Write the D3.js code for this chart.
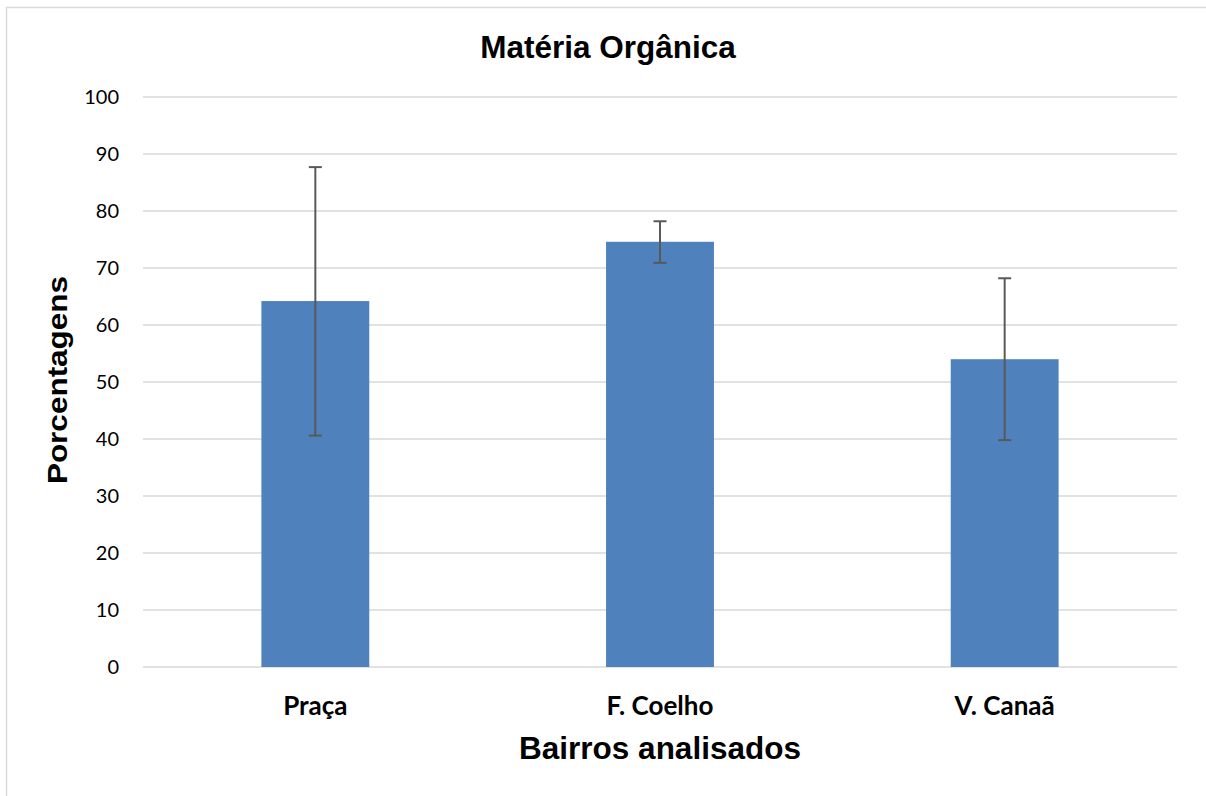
<!DOCTYPE html>
<html>
<head>
<meta charset="utf-8">
<script src="https://cdn.jsdelivr.net/npm/d3@7"></script>
<style>
  body { margin: 0; background: #fff; }
  svg { display: block; }
</style>
</head>
<body>
<svg id="chart"></svg>
<script>
// Data
const bairros = ['Praça', 'F. Coelho', 'V. Canaã'];
const medias = [64.2, 74.6, 54.0];
const erroSup = [87.7, 78.2, 68.2];
const erroInf = [40.6, 70.9, 39.8];
const yTicks = [0, 10, 20, 30, 40, 50, 60, 70, 80, 90, 100];

const width = 1206;
const height = 796;
const margin = { top: 97, right: 29, bottom: 129, left: 143 };

const svg = d3.select('#chart')
    .attr('width', width)
    .attr('height', height);

// outer frame
svg.append('rect')
    .attr('x', 6.5)
    .attr('y', 7.5)
    .attr('width', width + 10)
    .attr('height', height + 10)
    .attr('fill', 'white')
    .attr('stroke', '#d9d9d9')
    .attr('stroke-width', 1.5);

const x = d3.scaleBand()
    .domain(bairros)
    .range([margin.left, width - margin.right])
    .paddingInner(0.687)
    .paddingOuter(0.3435);

const y = d3.scaleLinear()
    .domain([0, 100])
    .range([height - margin.bottom, margin.top]);

// gridlines
svg.append('g')
    .selectAll('line')
    .data(yTicks)
    .enter()
    .append('line')
    .attr('x1', margin.left)
    .attr('x2', width - margin.right)
    .attr('y1', d => y(d))
    .attr('y2', d => y(d))
    .attr('stroke', '#d9d9d9')
    .attr('stroke-width', 1.5);

// y axis labels
const yAxis = svg.append('g')
    .attr('transform', `translate(${margin.left},0)`)
    .call(d3.axisLeft(y).tickValues(yTicks).tickSize(0).tickPadding(24));
yAxis.select('.domain').remove();
yAxis.selectAll('text')
    .style('font-family', 'Lato, "Open Sans", sans-serif')
    .style('font-size', '20px')
    .attr('fill', '#000');

// bars
svg.append('g')
    .selectAll('rect')
    .data(bairros)
    .enter()
    .append('rect')
    .attr('x', d => x(d))
    .attr('width', x.bandwidth())
    .attr('y', (d, i) => y(medias[i]))
    .attr('height', (d, i) => y(0) - y(medias[i]))
    .attr('fill', '#4f81bd');

// error bars
const err = svg.append('g')
    .attr('stroke', '#595959')
    .attr('stroke-width', 2);
bairros.forEach((b, i) => {
    const cx = x(b) + x.bandwidth() / 2;
    err.append('line')
        .attr('x1', cx).attr('x2', cx)
        .attr('y1', y(erroSup[i])).attr('y2', y(erroInf[i]));
    [erroSup[i], erroInf[i]].forEach(v => {
        err.append('line')
            .attr('x1', cx - 6.5).attr('x2', cx + 6.5)
            .attr('y1', y(v)).attr('y2', y(v));
    });
});

// x axis labels
const xAxis = svg.append('g')
    .attr('transform', `translate(0,${y(0)})`)
    .call(d3.axisBottom(x).tickSize(0).tickPadding(30));
xAxis.select('.domain').remove();
xAxis.selectAll('text')
    .style('font-family', 'Lato, "Open Sans", sans-serif')
    .style('font-weight', 'bold')
    .style('font-size', '26px')
    .attr('fill', '#000');

// title
svg.append('text')
    .attr('x', 608)
    .attr('y', 58)
    .attr('text-anchor', 'middle')
    .style('font-family', '"Liberation Sans", Arial, sans-serif')
    .style('font-weight', 'bold')
    .style('font-size', '31.5px')
    .text('Matéria Orgânica');

// x axis title
svg.append('text')
    .attr('x', 660)
    .attr('y', 759)
    .attr('text-anchor', 'middle')
    .style('font-family', '"Liberation Sans", Arial, sans-serif')
    .style('font-weight', 'bold')
    .style('font-size', '31.5px')
    .text('Bairros analisados');

// y axis title
svg.append('text')
    .attr('transform', `translate(67,380) rotate(-90) scale(1,0.9)`)
    .attr('text-anchor', 'middle')
    .style('font-family', '"Liberation Sans", Arial, sans-serif')
    .style('font-weight', 'bold')
    .style('font-size', '31.5px')
    .text('Porcentagens');
</script>
</body>
</html>
